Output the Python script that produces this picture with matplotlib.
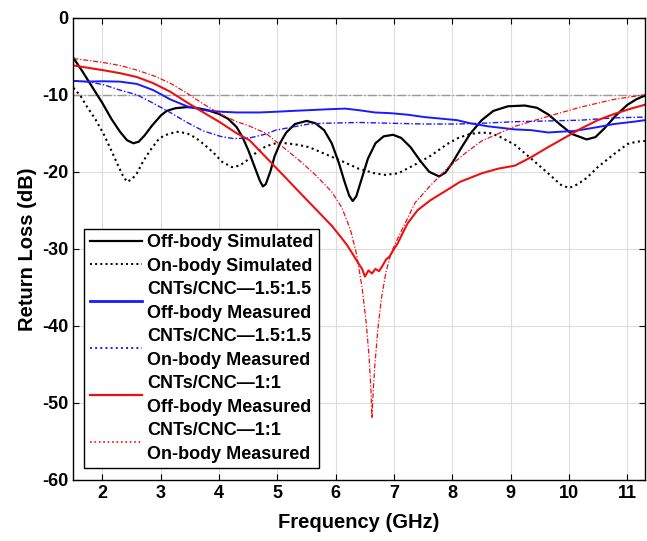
import matplotlib
matplotlib.use("Agg")
import matplotlib.pyplot as plt
from matplotlib.lines import Line2D

plt.rcParams.update({
    "font.family": ["Liberation Sans", "DejaVu Sans"],
    "font.weight": "bold",
    "axes.labelweight": "bold",
    "font.size": 13,
    "axes.unicode_minus": False,
})

# Off-body simulated (black solid)
off_sim_f = [1.5, 1.65, 1.8, 2.0, 2.15, 2.3, 2.42, 2.53, 2.62, 2.72, 2.85, 3.0, 3.1, 3.25, 3.45,
             3.6, 3.8, 4.0, 4.15, 4.3, 4.4, 4.5, 4.6, 4.7, 4.75, 4.8, 4.88, 4.95, 5.05, 5.15,
             5.3, 5.5, 5.65, 5.8, 5.93, 6.05, 6.15, 6.23, 6.29, 6.35, 6.44, 6.55, 6.68, 6.82,
             6.98, 7.12, 7.28, 7.45, 7.6, 7.77, 7.88, 8.0, 8.15, 8.3, 8.5, 8.7, 8.95, 9.24,
             9.45, 9.65, 9.85, 10.05, 10.3, 10.45, 10.6, 10.8, 11.0, 11.15, 11.3]
off_sim_db = [-5.2, -6.9, -8.7, -11.1, -13.1, -14.8, -15.9, -16.3, -16.1, -15.3, -14.0, -12.7, -12.1,
              -11.75, -11.6, -11.7, -12.0, -12.5, -13.1, -14.2, -15.5, -17.2, -19.2, -21.2, -21.9,
              -21.6, -19.9, -18.0, -16.2, -14.9, -13.8, -13.4, -13.7, -14.6, -16.3, -18.8, -21.3,
              -23.1, -23.8, -23.2, -21.0, -18.3, -16.3, -15.4, -15.2, -15.6, -16.8, -18.6, -20.0,
              -20.6, -20.1, -18.8, -16.9, -15.1, -13.3, -12.1, -11.5, -11.4, -11.7, -12.6, -13.9,
              -15.1, -15.8, -15.5, -14.4, -12.7, -11.3, -10.6, -10.1]

# On-body simulated (black dotted)
on_sim_f = [1.5, 1.62, 1.73, 1.88, 2.02, 2.15, 2.25, 2.35, 2.42, 2.5, 2.59, 2.7, 2.82, 2.95, 3.05,
            3.27, 3.45, 3.6, 3.75, 3.9, 4.05, 4.22, 4.35, 4.5, 4.65, 4.8, 4.97, 5.15, 5.35, 5.54,
            5.82, 6.1, 6.39, 6.67, 6.84, 7.07, 7.35, 7.63, 7.91, 8.1, 8.3, 8.5, 8.65, 8.8, 9.07,
            9.35, 9.64, 9.86, 10.0, 10.15, 10.3, 10.49, 10.77, 11.0, 11.15, 11.3]
on_sim_db = [-9.1, -10.1, -11.5, -13.2, -15.1, -17.2, -18.9, -20.5, -21.3, -21.0, -20.2, -18.6,
             -17.2, -15.9, -15.3, -14.8, -15.0, -15.6, -16.5, -17.5, -18.7, -19.4, -19.2, -18.4,
             -17.4, -16.7, -16.3, -16.3, -16.5, -16.8, -17.7, -18.6, -19.6, -20.2, -20.4, -20.2,
             -19.1, -17.9, -16.4, -15.6, -15.1, -14.9, -15.0, -15.4, -16.5, -18.3, -20.2, -21.7,
             -22.1, -21.6, -20.8, -19.4, -17.7, -16.4, -16.1, -16.0]

# CNTs/CNC 1.5:1.5 off-body measured (blue solid)
b_off_f = [1.5, 1.73, 2.0, 2.3, 2.59, 2.87, 3.16, 3.45, 3.73, 4.02, 4.3, 4.69, 5.0, 5.25, 5.55,
           5.82, 6.16, 6.39, 6.67, 6.95, 7.24, 7.52, 7.8, 8.08, 8.3, 8.61, 9.07, 9.35, 9.64, 9.85,
           10.09, 10.49, 10.77, 11.11, 11.3]
b_off_db = [-8.2, -8.3, -8.25, -8.3, -8.6, -9.4, -10.6, -11.5, -12.0, -12.2, -12.3, -12.3, -12.2,
            -12.1, -12.0, -11.9, -11.8, -12.0, -12.3, -12.4, -12.6, -12.9, -13.1, -13.3, -13.7,
            -14.1, -14.5, -14.6, -14.9, -14.8, -14.7, -14.2, -13.8, -13.5, -13.3]

# CNTs/CNC 1.5:1.5 on-body measured (blue dash-dot)
b_on_f = [1.5, 1.75, 2.02, 2.3, 2.59, 2.87, 3.16, 3.45, 3.73, 4.02, 4.25, 4.53, 4.8, 4.97, 5.25,
          5.54, 5.82, 6.39, 6.95, 7.52, 8.08, 8.5, 9.07, 9.64, 10.2, 10.77, 11.3]
b_on_db = [-8.2, -8.3, -8.7, -9.4, -10.0, -11.1, -12.3, -13.6, -14.7, -15.4, -15.7, -15.6, -15.1,
           -14.6, -14.2, -13.8, -13.7, -13.6, -13.7, -13.8, -13.8, -13.7, -13.5, -13.4, -13.3,
           -13.0, -12.9]

# CNTs/CNC 1:1 off-body measured (red solid)
r_off_f = [1.5, 2.0, 2.3, 2.59, 2.87, 3.16, 3.45, 3.73, 4.02, 4.3, 4.52, 4.8, 5.08, 5.37, 5.65,
           5.93, 6.1, 6.2, 6.3, 6.38, 6.45, 6.5, 6.56, 6.62, 6.68, 6.74, 6.8, 6.86, 6.92, 7.0,
           7.06, 7.15, 7.23, 7.4, 7.62, 7.9, 8.13, 8.3, 8.5, 8.78, 9.07, 9.35, 9.64, 9.92, 10.2,
           10.49, 10.77, 11.06, 11.3]
r_off_db = [-6.2, -6.8, -7.2, -7.7, -8.5, -9.6, -11.0, -12.3, -13.6, -15.0, -15.9, -18.1, -20.3,
            -22.6, -24.8, -27.0, -28.6, -29.6, -30.8, -31.8, -32.6, -33.6, -32.8, -33.2, -32.6,
            -32.9, -32.2, -31.4, -31.0, -30.0, -29.3, -27.9, -26.7, -25.0, -23.7, -22.4, -21.3,
            -20.8, -20.2, -19.6, -19.2, -18.1, -16.8, -15.6, -14.4, -13.3, -12.5, -11.8, -11.3]

# CNTs/CNC 1:1 on-body measured (red dash-dot)
r_on_f = [1.5, 2.0, 2.3, 2.59, 2.9, 3.16, 3.45, 3.73, 4.02, 4.3, 4.5, 4.8, 5.08, 5.37, 5.65, 5.93,
          6.1, 6.25, 6.35, 6.45, 6.52, 6.57, 6.6, 6.62, 6.64, 6.67, 6.72, 6.78, 6.86, 6.95, 7.07,
          7.2, 7.36, 7.62, 7.93, 8.2, 8.5, 8.8, 9.07, 9.64, 10.2, 10.77, 11.3]
r_on_db = [-5.3, -5.8, -6.2, -6.8, -7.6, -8.5, -9.8, -11.2, -12.5, -13.5, -14.0, -15.0, -16.7,
           -18.5, -20.4, -22.6, -24.6, -27.5, -30.5, -35.0, -39.5, -44.0, -48.0, -52.0, -48.5,
           -45.0, -40.5, -36.5, -33.0, -30.5, -28.5, -26.5, -24.0, -21.8, -19.4, -17.7, -16.0,
           -15.0, -14.1, -12.8, -11.6, -10.6, -10.0]

# -10 dB reference
ref_f = [1.5, 11.3]
ref_db = [-10.0, -10.0]

labels = ["Off-body Simulated", "On-body Simulated",
          "CNTs/CNC\u20141.5:1.5\nOff-body Measured", "CNTs/CNC\u20141.5:1.5\nOn-body Measured",
          "CNTs/CNC\u20141:1\nOff-body Measured", "CNTs/CNC\u20141:1\nOn-body Measured"]

BLUE = "#1a1aff"
RED = "#ee1111"
DASHDOT = (0, (4, 1.5, 1, 1.5))

fig = plt.figure(figsize=(6.47, 5.41), dpi=100)
ax = fig.add_axes([0.1133, 0.1128, 0.8836, 0.8545])

ax.plot(ref_f, ref_db, color="#999999", lw=1.0, ls="-.")
ax.plot(off_sim_f, off_sim_db, color="black", lw=1.6)
ax.plot(on_sim_f, on_sim_db, color="black", lw=1.5, ls=":")
ax.plot(b_off_f, b_off_db, color=BLUE, lw=1.4)
ax.plot(b_on_f, b_on_db, color=BLUE, lw=1.0, ls=DASHDOT)
ax.plot(r_off_f, r_off_db, color=RED, lw=1.5)
ax.plot(r_on_f, r_on_db, color=RED, lw=0.9, ls=DASHDOT)

ax.set_xlim(1.5, 11.3)
ax.set_ylim(-60, 0)
ax.set_xticks(range(2, 12))
ax.set_yticks(range(-60, 1, 10))
ax.grid(True, color="#dddddd", lw=0.8)
ax.set_axisbelow(True)
ax.tick_params(direction="in", top=True, right=True, length=4, labelsize=13)
for s in ax.spines.values():
    s.set_linewidth(1.0)
ax.set_xlabel("Frequency (GHz)", fontsize=14.5, labelpad=8)
ax.set_ylabel("Return Loss (dB)", fontsize=14.5, labelpad=4)

handles = [Line2D([], [], color="black", lw=1.6),
           Line2D([], [], color="black", lw=1.4, ls=":"),
           Line2D([], [], color=BLUE, lw=2.0),
           Line2D([], [], color=BLUE, lw=1.4, ls=":"),
           Line2D([], [], color=RED, lw=1.6),
           Line2D([], [], color=RED, lw=1.2, ls=":")]
leg = ax.legend(handles, labels, loc="lower left", bbox_to_anchor=(0.019, 0.026),
                borderaxespad=0, fancybox=False, edgecolor="black", framealpha=1,
                fontsize=13, handlelength=2.9, handletextpad=0.3, labelspacing=0.36,
                borderpad=0.3)
for t in leg.get_texts():
    t.set_linespacing(1.5)
leg.get_frame().set_linewidth(1.0)

fig.savefig("out.png", dpi=100)
